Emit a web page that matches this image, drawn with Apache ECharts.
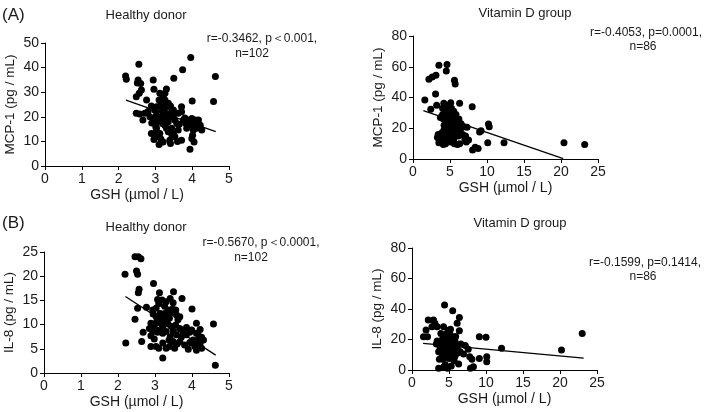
<!DOCTYPE html>
<html><head><meta charset="utf-8">
<script src="https://cdn.jsdelivr.net/npm/echarts@6/dist/echarts.min.js"></script>
<style>html,body{margin:0;padding:0;background:#fff}#c{width:709px;height:412px}</style>
</head><body><div id="c"></div>
<script>
// ---- data (GSH µmol/L, cytokine pg/mL) ----
var hdMcp1 = [[2.19,36.6],[2.21,35.3],[2.55,41.4],[2.53,35],[2.51,33.7],[2.62,30.9],[2.56,29.6],[2.48,28.2],[2.94,35],[2.96,31.2],[3.12,29.6],[3.30,31.3],[3.96,44.1],[3.74,39.1],[3.50,35.7],[4.63,36.4],[4.58,26.2],[4.0,26.4],[2.76,26.8],[2.48,21.4],[2.57,21.1],[2.71,21.4],[2.66,18.7],[2.89,24.4],[2.98,22.8],[3.03,20.7],[2.94,19.3],[3.10,26.8],[3.15,24.8],[3.17,22.8],[3.21,20.7],[3.23,18.7],[3.26,16.6],[3.03,15.3],[3.01,15.9],[3.26,26.8],[3.35,25.5],[3.30,24.1],[3.44,22.1],[3.41,24.4],[3.49,20],[3.62,21.4],[3.71,24.1],[3.76,18.7],[3.58,17.3],[3.44,15.3],[3.35,13.9],[3.49,13.2],[3.53,11.9],[3.39,10.5],[3.41,9.1],[3.21,9.8],[3.10,8.7],[2.96,10.8],[3.03,11.9],[3.12,13.2],[2.89,13.2],[3.71,10.5],[3.62,14.6],[3.85,15.3],[3.91,18.7],[3.99,19.3],[4.08,18.7],[4.17,18.7],[4.22,16.6],[4.12,15.3],[4.03,14.6],[4.01,12.5],[3.99,11.2],[4.05,9.8],[3.94,6.8],[3.96,16.6],[4.17,16.2],[4.26,14.6],[3.83,17.3],[3.65,17],[3.53,18.7],[3.35,19.3],[3.12,19.3],[3.03,17.9],[3.19,17.3],[3.30,15.3],[2.98,19.3],[2.85,20],[2.80,22.2],[3.49,22.8],[3.71,22.1],[3.39,20.7],[3.28,21.4],[3.35,18],[3.21,28.2],[3.26,29.6],[3.03,24.1],[3.19,25.2],[3.45,12.5],[3.15,11],[2.6,33.5],[3.6,10],[4.1,17.5],[3.0,13.5],[3.8,19.5],[2.9,17.5]];
var vdMcp1 = [[1.6,38.3],[2.15,51.8],[2.6,53.4],[3.1,54.5],[3.5,61],[4.6,61.5],[4.5,57.3],[5.6,51.3],[5.7,48.7],[3.05,42.2],[3.2,35],[2.4,32.3],[4.16,36.2],[5.1,36.6],[6.3,36.2],[8.0,34],[9.2,18.4],[10.2,22.7],[10.3,21],[10.1,10.6],[12.3,10.6],[20.4,10.6],[23.2,9.5],[8.05,5.8],[8.4,7.6],[8.8,6.8],[7.3,20.6],[7.5,12.3],[7.1,14.9],[9.0,17.5],[3.3,14],[3.5,10.5],[3.6,16],[3.8,12],[3.9,17],[4.0,29],[4.0,33],[4.1,26],[4.2,22],[4.2,19],[4.3,15],[4.4,10],[4.4,12],[4.5,28],[4.5,31],[4.6,24],[4.6,17],[4.7,20],[4.8,35],[4.8,27],[4.9,22],[4.9,14],[5.0,30],[5.0,18],[5.1,25],[5.1,11],[5.2,33],[5.2,21],[5.3,28],[5.3,15],[5.4,24],[5.4,19],[5.5,31],[5.5,13],[5.6,26],[5.7,22],[5.8,17],[5.8,29],[5.9,24],[6.0,20],[6.1,15],[6.2,26],[6.3,10],[6.4,19],[6.5,23],[6.7,16],[6.9,21],[7.0,13],[7.2,11],[3.7,27],[3.4,16],[4.3,35],[5.6,10],[6.0,9.5],[4.1,9.5],[4.7,13]];
var hdIl8 = [[2.19,20.4],[2.21,6.2],[2.46,24.0],[2.55,24.0],[2.62,23.6],[2.5,21.1],[2.53,20.4],[2.57,17.3],[2.55,16.6],[2.46,11.1],[2.53,13.4],[2.64,6.5],[2.68,8.4],[2.96,18.5],[3.07,15.2],[3.12,16.6],[3.5,16.8],[3.73,15.4],[4.0,13.2],[4.58,10.1],[4.63,1.6],[3.21,3.1],[2.77,13.6],[2.94,13],[2.89,10.3],[2.94,8.6],[2.89,7.7],[2.98,7.0],[3.07,8.4],[3.03,10.4],[3.14,12.3],[3.17,11.3],[3.21,9.6],[3.10,5.1],[3.21,6.2],[3.30,5.1],[3.26,13.8],[3.35,13],[3.39,11.3],[3.28,10.4],[3.30,8.6],[3.44,9.6],[3.41,7.5],[3.39,5.5],[3.53,5.1],[3.49,14.5],[3.47,13.2],[3.58,12.0],[3.62,11],[3.56,9.9],[3.67,9.2],[3.76,8.4],[3.71,7.4],[3.67,6.5],[3.80,5.8],[3.85,7.9],[3.94,8.4],[4.03,6.8],[3.99,6.2],[4.08,6.5],[4.12,6.0],[4.17,6.8],[4.22,6.2],[4.26,5.1],[4.12,4.7],[4.08,5.5],[4.22,9.0],[4.12,10.3],[3.94,6.3],[3.90,4.9],[4.19,7.6],[3.85,9.4],[3.56,13],[3.41,15.4],[3.30,14.7],[3.19,15.1],[3.03,13.4],[3.15,10.4],[3.26,11.3],[3.32,12],[3.35,10.1],[3.12,8.9],[3.21,8.2],[3.49,8.6],[3.58,7.9],[2.89,5.5],[3.03,5.5],[3.38,6.8],[3.49,6.5],[2.98,9.4],[2.85,9.2],[3.41,12.3],[3.67,11.6],[3.99,8.9],[4.12,8.2],[4.26,7.4],[4.31,6.8],[3.03,11.6],[3.26,12.3],[3.1,14.3],[3.6,6],[2.95,12.2]];
var vdIl8 = [[1.55,21.8],[2.1,21.8],[1.9,26.2],[2.2,32.8],[2.9,32.8],[3.1,30.6],[2.7,28.4],[3.4,28.4],[4.4,42.6],[5.5,38.9],[6.4,34.5],[6.1,30.6],[6.4,25.8],[4.26,28.4],[5.2,26.7],[9.1,21.8],[10.0,21.4],[12.1,14.2],[20.2,13.1],[23.0,24.0],[7.6,13.6],[6.96,10.5],[6.5,12.0],[8.1,7.0],[9.1,7.6],[10.1,8.7],[10.1,5.4],[8.3,2.2],[7.9,1.2],[6.3,3.9],[3.6,1.1],[4.3,2.2],[4.8,1.2],[5.3,2.6],[7.2,16],[7.8,8.7],[3.6,12],[3.8,14],[3.9,18],[4.0,11],[4.1,20],[4.2,16],[4.3,13],[4.4,9],[4.4,22],[4.5,18],[4.6,15],[4.6,11],[4.7,24],[4.7,20],[4.8,13],[4.8,17],[4.9,9],[4.9,26],[5.0,15],[5.0,21],[5.1,12],[5.1,18],[5.2,10],[5.2,23],[5.3,14],[5.3,16],[5.4,19],[5.4,8],[5.5,13],[5.5,21],[5.6,11],[5.6,17],[5.7,14],[5.8,9],[5.8,19],[5.9,12],[6.0,16],[6.1,11],[6.2,13],[3.4,19],[3.7,7],[4.2,7],[5.0,7.5],[4.5,3.5],[5.7,6],[3.3,17],[5.9,22],[4.0,15],[6.6,17],[3.9,24]];
// regression line end points
var hdMcp1Fit = [[2.2,26.8],[4.64,14.0]];
var vdMcp1Fit = [[1.4,31.5],[20.3,0.3]];
var hdIl8Fit = [[2.2,15.8],[4.64,3.7]];
var vdIl8Fit = [[1.5,17.5],[23.2,7.8]];
// axis ranges
var hdXMax = 5, hdXStep = 1, vdXMax = 25, vdXStep = 5;
var mcpHdMax = 50, mcpHdStep = 10, vdYMax = 80, vdYStep = 20, il8HdMax = 25, il8HdStep = 5;
var groupTitles = ['Healthy donor', 'Vitamin D group'];
var statsTop = ['r=-0.3462, p\uFF1C0.001,', 'r=-0.4053, p=0.0001,', 'r=-0.5670, p\uFF1C0.0001,', 'r=-0.1599, p=0.1414,'];
var statsN = ['n=102', 'n=86', 'n=102', 'n=86'];
var xName = 'GSH (\u00b5mol / L)';
var yNames = ['MCP-1 (pg / mL)', 'MCP-1 (pg / mL)', 'IL-8 (pg / mL)', 'IL-8 (pg / mL)'];

var FONT = 'Arial, "Liberation Sans", Helvetica, sans-serif';
var TXT = '#1a1a1a';
var chart = echarts.init(document.getElementById('c'), null, {renderer: 'canvas'});

var grids = [
  {left: 45, top: 43, width: 184, height: 123},
  {left: 413, top: 36, width: 185, height: 123},
  {left: 44, top: 252, width: 185, height: 121},
  {left: 412, top: 248, width: 185, height: 122}
];
var xCfg = [[hdXMax, hdXStep], [vdXMax, vdXStep], [hdXMax, hdXStep], [vdXMax, vdXStep]];
var yCfg = [[mcpHdMax, mcpHdStep], [vdYMax, vdYStep], [il8HdMax, il8HdStep], [vdYMax, vdYStep]];
var pts = [hdMcp1, vdMcp1, hdIl8, vdIl8];
var fits = [hdMcp1Fit, vdMcp1Fit, hdIl8Fit, vdIl8Fit];

function axisCommon() {
  return {
    axisLine: {show: true, onZero: false, lineStyle: {color: '#000', width: 1}},
    axisTick: {show: true, inside: false, length: 4, lineStyle: {color: '#000'}},
    axisLabel: {color: TXT, fontSize: 14, fontFamily: FONT, margin: 6},
    splitLine: {show: false},
    nameTextStyle: {color: TXT, fontSize: 14, fontFamily: FONT}
  };
}

var xAxes = [], yAxes = [], series = [];
for (var i = 0; i < 4; i++) {
  var xa = axisCommon();
  xa.type = 'value'; xa.gridIndex = i; xa.min = 0; xa.max = xCfg[i][0]; xa.interval = xCfg[i][1];
  xa.name = xName; xa.nameLocation = 'middle'; xa.nameGap = 22;
  xAxes.push(xa);
  var ya = axisCommon();
  ya.type = 'value'; ya.gridIndex = i; ya.min = 0; ya.max = yCfg[i][0]; ya.interval = yCfg[i][1];
  ya.name = yNames[i]; ya.nameLocation = 'middle'; ya.nameGap = 28;
  ya.nameTextStyle = {color: TXT, fontSize: 13.5, fontFamily: FONT};
  yAxes.push(ya);
  series.push({type: 'scatter', xAxisIndex: i, yAxisIndex: i, data: pts[i], symbolSize: 7,
    itemStyle: {color: '#000', opacity: 1}, silent: true, animation: false});
  series.push({type: 'line', xAxisIndex: i, yAxisIndex: i, data: fits[i], showSymbol: false, symbol: 'none',
    lineStyle: {color: '#000', width: 1.3}, silent: true, animation: false, z: 3});
}

function t(text, x, y, size, align) {
  return {type: 'text', x: x, y: y, silent: true,
    style: {text: text, x: 0, y: 0, fill: TXT, font: size + 'px ' + FONT,
      textAlign: align || 'center', textVerticalAlign: 'middle', align: align || 'center', verticalAlign: 'middle'}};
}

var graphics = [
  t('(A)', 2, 15, 17, 'left'),
  t('(B)', 2, 223, 17, 'left'),
  t(groupTitles[0], 146, 15, 13),
  t(groupTitles[1], 525, 13, 13),
  t(groupTitles[0], 146, 227, 13),
  t(groupTitles[1], 520, 223, 13),
  t(statsTop[0], 262, 39, 12), t(statsN[0], 252, 54, 12),
  t(statsTop[1], 646, 33, 12), t(statsN[1], 643, 47, 12),
  t(statsTop[2], 261, 243, 12), t(statsN[2], 251, 258, 12),
  t(statsTop[3], 645, 263, 12), t(statsN[3], 643, 277, 12)
];

chart.setOption({
  animation: false,
  backgroundColor: '#fff',
  grid: grids,
  xAxis: xAxes,
  yAxis: yAxes,
  series: series,
  graphic: graphics
});
</script></body></html>
